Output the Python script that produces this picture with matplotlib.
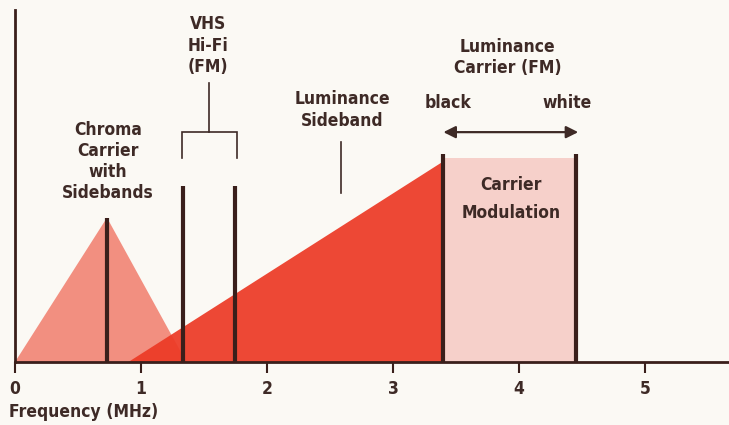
import matplotlib.pyplot as plt
from matplotlib.patches import Polygon, Rectangle

# spectrum of a VHS Hi-Fi recording (MHz, relative level)
chroma_carrier = 0.73
chroma_band = [0.0, 1.36]
chroma_level = 41

hifi_carriers = [1.33, 1.75]
hifi_level = 50

lum_start = 0.9
lum_black = 3.4
lum_white = 4.45
lum_level = 57
carrier_level = 59
mod_level = 58

ticks = [0, 1, 2, 3, 4, 5]

bg = '#fbf9f4'
ink = '#3e2a26'
line_col = '#3a1f1b'

plt.rcParams['font.family'] = ['DejaVu Sans']
plt.rcParams['font.stretch'] = 'condensed'
plt.rcParams['font.weight'] = 'bold'

fig = plt.figure(figsize=(7.29, 4.25), dpi=100, facecolor=bg)
ax = fig.add_axes([15/729, 63/425, 714/729, 352/425])
ax.set_facecolor(bg)
ax.set_xlim(0, 714/126)
ax.set_ylim(0, 100)

# chroma carrier with sidebands
ax.add_patch(Polygon([(chroma_band[0], 0), (chroma_carrier, chroma_level), (chroma_band[1], 0)],
                     closed=True, facecolor='#f28f80', edgecolor='none', zorder=1))
# luminance sideband ramp
ax.add_patch(Polygon([(lum_start, 0), (lum_black, lum_level), (lum_black, 0)],
                     closed=True, facecolor='#ec3a26', edgecolor='none', alpha=0.93, zorder=2))
# FM deviation range
ax.add_patch(Rectangle((lum_black, 0), lum_white - lum_black, mod_level,
                       facecolor='#f6d0ca', edgecolor='none', zorder=1))

ax.vlines(chroma_carrier, 0, chroma_level, color=line_col, lw=3, zorder=3)
ax.vlines(hifi_carriers, 0, hifi_level, color=line_col, lw=3, zorder=3)
ax.vlines([lum_black, lum_white], 0, carrier_level, color=line_col, lw=3, zorder=3)

# bracket over the Hi-Fi carriers
bx0, bx1 = 1.325, 1.76
ax.plot([bx0, bx0, bx1, bx1], [58, 65.3, 65.3, 58], color=ink, lw=1.2, solid_joinstyle='miter')
ax.plot([1.54, 1.54], [65.3, 79.3], color=ink, lw=1.2)

# pointer for the luminance sideband
ax.plot([2.59, 2.59], [48, 62.5], color=ink, lw=1.2)

# black-to-white deviation arrow
ax.annotate('', xy=(4.47, 65.3), xytext=(3.40, 65.3),
            arrowprops=dict(arrowstyle='<|-|>', color=ink, lw=1.6, mutation_scale=18,
                            shrinkA=0, shrinkB=0))

txt = dict(ha='center', va='center', color=ink, fontsize=12.5, fontweight='bold')
ax.text(1.53, 89.8, 'VHS\nHi-Fi\n(FM)', linespacing=1.25, **txt)
ax.text(0.74, 57, 'Chroma\nCarrier\nwith\nSidebands', linespacing=1.2, **txt)
ax.text(2.595, 71.6, 'Luminance\nSideband', linespacing=1.25, **txt)
ax.text(3.91, 86.5, 'Luminance\nCarrier (FM)', linespacing=1.25, **txt)
ax.text(3.44, 73.6, 'black', **txt)
ax.text(4.38, 73.6, 'white', **txt)
ax.text(3.94, 46.3, 'Carrier\nModulation', linespacing=1.75, **txt)

for s in ['top', 'right']:
    ax.spines[s].set_visible(False)
for s in ['left', 'bottom']:
    ax.spines[s].set_color(line_col)
    ax.spines[s].set_linewidth(2)
ax.spines['left'].set_bounds(0, 100)

ax.set_xticks(ticks)
ax.set_xticklabels([str(t) for t in ticks])
ax.set_yticks([])
ax.tick_params(axis='x', direction='out', length=8, width=1.5, color=line_col,
               labelcolor=ink, labelsize=12.5, pad=5)

fig.text(9/729, 1 - 412/425, 'Frequency (MHz)', ha='left', va='center',
         color=ink, fontsize=12.5, fontweight='bold')

fig.savefig('out.png', dpi=100, facecolor=bg)
